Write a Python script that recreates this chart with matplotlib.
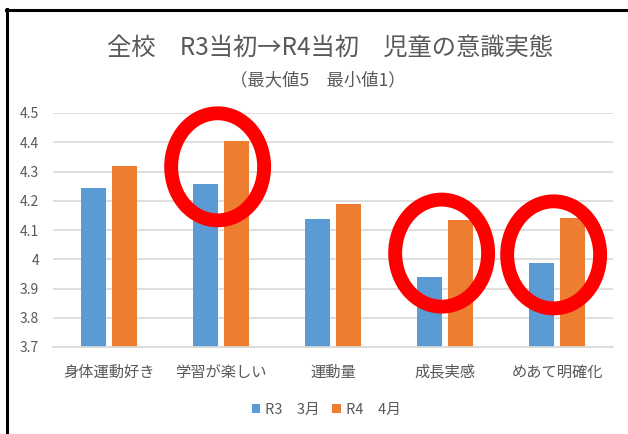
import numpy as np
import matplotlib
matplotlib.use("Agg")
import matplotlib.pyplot as plt
from matplotlib.patches import Ellipse
from matplotlib.lines import Line2D

plt.rcParams['font.family'] = ['Noto Sans CJK JP', 'DejaVu Sans']

categories = ["身体運動好き", "学習が楽しい", "運動量", "成長実感", "めあて明確化"]
r3_march = [4.245, 4.258, 4.139, 3.940, 3.986]
r4_april = [4.320, 4.404, 4.190, 4.135, 4.141]
series_names = ["R3　3月", "R4　4月"]
yticks = [3.7, 3.8, 3.9, 4.0, 4.1, 4.2, 4.3, 4.4, 4.5]
ytick_labels = ["3.7", "3.8", "3.9", "4", "4.1", "4.2", "4.3", "4.4", "4.5"]
# highlighted categories (red circles)
circled = [1, 3, 4]
circle_y = [4.316, 4.021, 4.015]

W, H = 628, 434
fig = plt.figure(figsize=(W / 100, H / 100), dpi=100)
ax = fig.add_axes([53 / W, 1 - 347 / H, 560 / W, (347 - 113) / H])

gray = "#595959"
x = np.arange(len(categories))
bw = 0.22
ax.bar(x - 0.14, r3_march, bw, color="#5b9bd5", label=series_names[0], zorder=2)
ax.bar(x + 0.14, r4_april, bw, color="#ed7d31", label=series_names[1], zorder=2)

ax.set_ylim(3.7, 4.5)
ax.set_xlim(-0.5, len(categories) - 0.5)
ax.set_yticks(yticks)
ax.set_yticklabels(ytick_labels)
ax.set_xticks(x)
ax.set_xticklabels(categories)
ax.tick_params(axis="y", length=0, colors=gray, labelsize=10, pad=10)
ax.tick_params(axis="x", length=0, colors=gray, labelsize=11, pad=12)
ax.grid(axis="y", color="#d9d9d9", lw=1.2, zorder=0)
for s in ["top", "right", "left"]:
    ax.spines[s].set_visible(False)
ax.spines["bottom"].set_color("#d9d9d9")
ax.spines["bottom"].set_linewidth(1.2)

# red circle annotations
for i, cy in zip(circled, circle_y):
    e = Ellipse((i - 0.03, cy), width=0.83, height=0.366, fill=False, edgecolor="#ff0000",
                lw=10, zorder=5, clip_on=False)
    ax.add_patch(e)

fig.text(330 / W, 1 - 48 / H, "全校　R3当初→R4当初　児童の意識実態", ha="center", va="center",
         fontsize=17.5, color=gray)
fig.text(318 / W, 1 - 80 / H, "（最大値5　最小値1）", ha="center", va="center",
         fontsize=12.5, color=gray)

ax.legend(loc="center", bbox_to_anchor=(326 / W, 1 - 410 / H), bbox_transform=fig.transFigure,
          ncol=2, frameon=False, fontsize=10.5, labelcolor=gray, handlelength=0.6,
          handleheight=0.6, handletextpad=0.3, columnspacing=0.9)

# screenshot frame
fig.add_artist(Line2D([7 / W, 7 / W], [0, 1 - 9 / H], color="black", lw=2.2))
fig.add_artist(Line2D([6 / W, 1], [1 - 10 / H, 1 - 10 / H], color="black", lw=2.2))

fig.savefig("out.png", dpi=100, facecolor="white")
